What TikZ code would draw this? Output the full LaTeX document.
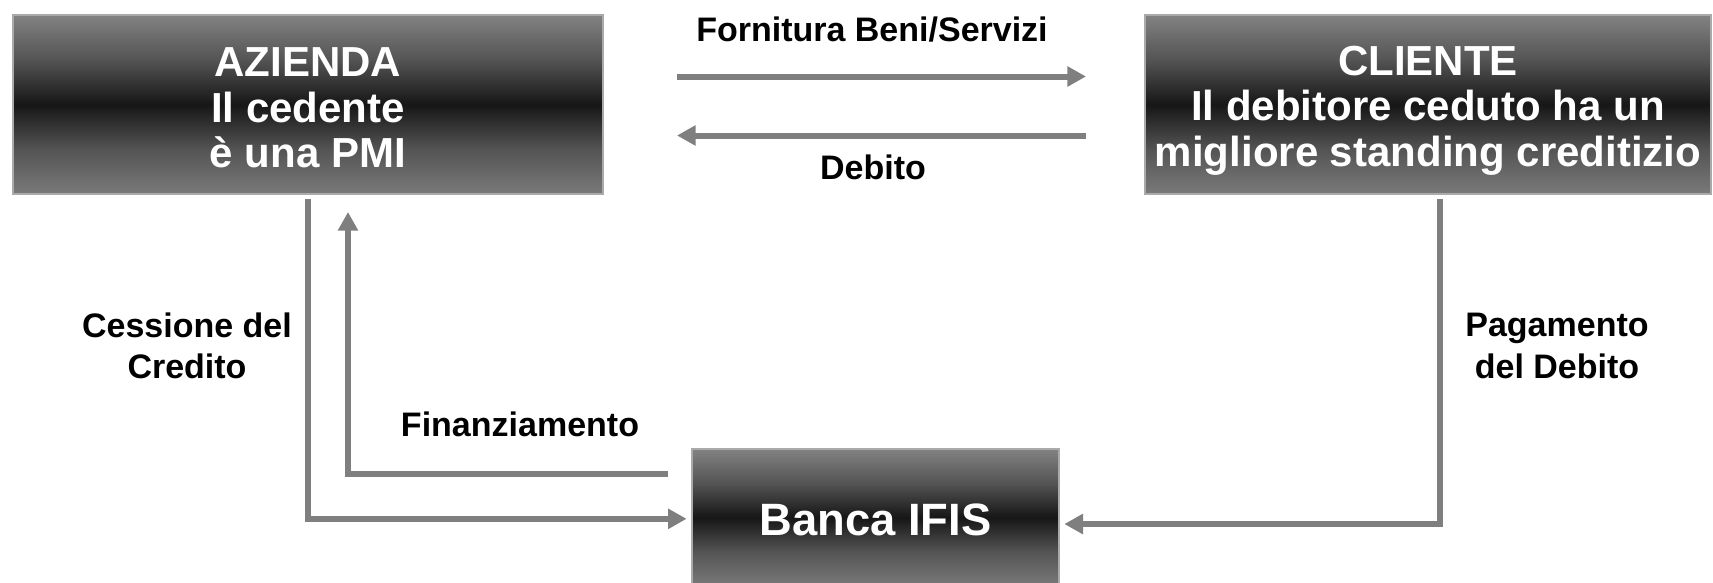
\documentclass[tikz,border=0pt]{standalone}
\usepackage{fontspec}
\setmainfont{Liberation Sans}
\usetikzlibrary{arrows.meta}
\definecolor{gT}{RGB}{130,130,130}
\definecolor{gB}{RGB}{122,122,122}
\definecolor{gM}{RGB}{84,84,84}
\definecolor{gD}{RGB}{22,22,22}
\definecolor{arrgray}{RGB}{127,127,127}
\definecolor{boxedge}{RGB}{170,170,170}
\pgfdeclareverticalshading{boxshade}{100bp}{color(0bp)=(gB); color(25bp)=(gB); color(37.5bp)=(gM); color(50bp)=(gD); color(62.5bp)=(gM); color(75bp)=(gT); color(100bp)=(gT)}
\tikzset{
  boxnode/.style={shade, shading=boxshade, draw=boxedge, line width=1.5pt, inner sep=0pt, outer sep=0pt},
  boxtext/.style={text=white, font=\bfseries\fontsize{31.5}{34.2}\selectfont, align=center, inner sep=0pt},
  lbl/.style={text=black, font=\bfseries\fontsize{25.5}{31}\selectfont, align=center, inner sep=0pt},
  arr/.style={draw=arrgray, line width=4.5pt, -{Triangle[length=14pt,width=14.5pt]}, arrgray}
}
\begin{document}
\begin{tikzpicture}[x=0.75pt,y=-0.75pt]
\useasboundingbox (0,0) rectangle (1713,582);
\clip (0,0) rectangle (1713,582);
\node[boxnode, minimum width=442.5pt, minimum height=134.25pt] (az) at (308,104.5) {};
\node[boxnode, minimum width=424.5pt, minimum height=134.25pt] (cl) at (1428,104.5) {};
\node[boxnode, minimum width=275.25pt, minimum height=102.75pt] (bk) at (875.5,517.5) {};
\node[boxtext] (aztext) at ([yshift=-2.5pt]az.center) {AZIENDA\\Il cedente\\è una PMI};
\node[boxtext] (cltext) at ([yshift=-4.5pt]cl.center) {CLIENTE\\Il debitore ceduto ha un\\migliore standing creditizio};
\node[boxtext, font=\bfseries\fontsize{34}{40}\selectfont] (bktext) at ([yshift=-1.5pt]bk.center) {Banca IFIS};

\node[lbl] (forn) at (872,30) {Fornitura Beni/Servizi};
\node[lbl] (deb) at (873,167) {Debito};
\node[lbl] (cess) at (187,346) {Cessione del\\Credito};
\node[lbl] (fin) at (520,424) {Finanziamento};
\node[lbl] (pag) at (1557,346) {Pagamento\\del Debito};

\draw[arr] ([xshift=55.5pt,yshift=21pt]az.east) -- ([xshift=-44.25pt,yshift=21pt]cl.west);
\draw[arr] ([xshift=-44.25pt,yshift=-23.25pt]cl.west) -- ([xshift=55.5pt,yshift=-23.25pt]az.east);
\draw[arr] ([yshift=-4pt]az.south) |- ([xshift=-4pt,yshift=-1pt]bk.west);
\draw[arr] ([xshift=-18pt,yshift=33pt]bk.west) -| ([xshift=30pt,yshift=-13.5pt]az.south);
\draw[arr] ([xshift=9pt,yshift=-4pt]cl.south) |- ([xshift=4pt,yshift=-4.9pt]bk.east);
\end{tikzpicture}
\end{document}
